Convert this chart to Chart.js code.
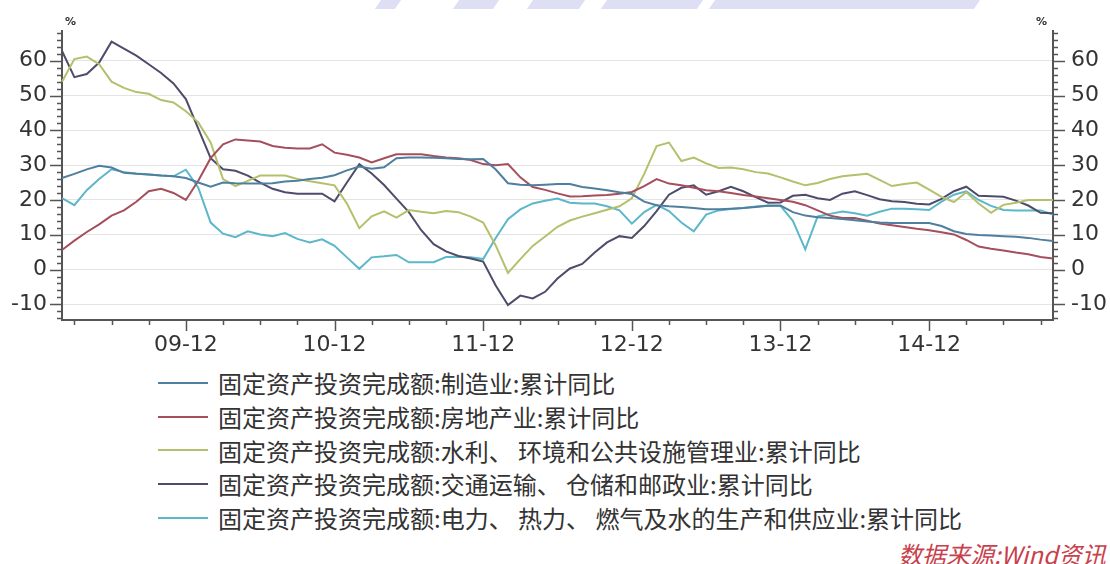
<!DOCTYPE html>
<html>
<head>
<meta charset="utf-8">
<script src="https://cdn.jsdelivr.net/npm/chart.js@4.4.1/dist/chart.umd.min.js"></script>
<style>
  body { margin: 0; background: #fff; width: 1110px; height: 564px; overflow: hidden; position: relative; }
  #wrap { position: absolute; left: 0; top: 0; width: 1110px; height: 362px; }
  .pct { position: absolute; font: bold 11px "DejaVu Sans"; color: #333; }
  #legend { position: absolute; left: 158px; top: 366px; font-family: "Noto Sans CJK SC", sans-serif; }
  .row { height: 33.7px; display: flex; align-items: center; font-size: 24px; color: #333; white-space: pre; }
  .row i { display: inline-block; width: 50px; height: 2px; margin-right: 10px; }
  #src { position: absolute; left: 898px; top: 536px; color: #c8404c; font: italic 24px "Noto Sans CJK SC", sans-serif; }
  .band { position: absolute; top: 0; height: 9px; background: #dedef4; transform: skewX(-35deg); }
</style>
</head>
<body>
<div class="band" style="left:378px;width:20px"></div>
<div class="band" style="left:456px;width:40px"></div>
<div class="band" style="left:530px;width:52px"></div>
<div class="band" style="left:604px;width:96px"></div>
<div class="band" style="left:712px;width:265px"></div>
<div id="wrap"><canvas id="chart"></canvas></div>
<div class="pct" style="left:65px;top:15px">%</div>
<div class="pct" style="left:1036px;top:15px">%</div>
<div id="legend"></div>
<div id="src">数据来源:Wind资讯</div>
<script>
// months 09-02 .. 15-10
const months = [];
for (let yr = 9; yr <= 15; yr++) {
  for (let mo = 1; mo <= 12; mo++) {
    if ((yr === 9 && mo < 2) || (yr === 15 && mo > 10)) continue;
    months.push(String(yr).padStart(2, '0') + '-' + String(mo).padStart(2, '0'));
  }
}

const seriesNames = [
  '固定资产投资完成额:制造业:累计同比',
  '固定资产投资完成额:房地产业:累计同比',
  '固定资产投资完成额:水利、 环境和公共设施管理业:累计同比',
  '固定资产投资完成额:交通运输、 仓储和邮政业:累计同比',
  '固定资产投资完成额:电力、 热力、 燃气及水的生产和供应业:累计同比'
];
const seriesColors = ['#4f7f9f', '#a54f5c', '#b5bf6c', '#4d4c6b', '#5bb7c9'];

const manufacturing = [
  26.3, 27.5, 28.8, 29.8, 29.3, 27.8, 27.5, 27.3, 27, 26.8, 26.3,
  25, 23.8, 25, 24.8, 24.7, 24.7, 24.8, 25.3, 25.5, 26, 26.4, 27.1,
  28.5, 29.6, 29, 29.4, 32, 32.2, 32.2, 32.1, 32, 31.8, 31.7, 31.8,
  28.8, 24.8, 24.4, 24.2, 24.4, 24.6, 24.6, 23.7, 23.3, 22.8, 22.2, 21.7,
  19.5, 18.5, 18.2, 18, 17.7, 17.3, 17.3, 17.5, 17.7, 18, 18.3, 18.4,
  16.5, 15.5, 15, 14.8, 14.5, 14.2, 13.8, 13.5, 13.4, 13.4, 13.4, 13.4,
  12.5, 11, 10.2, 9.9, 9.8, 9.6, 9.4, 9.1, 8.6, 8.2
];
const realEstate = [
  5.6, 8.3, 10.8, 13, 15.5, 17, 19.5, 22.5, 23.2, 22, 20,
  25.5, 32, 36, 37.4, 37.1, 36.8, 35.5, 35, 34.8, 34.8, 36, 33.6,
  33, 32.2, 30.8, 32, 33.1, 33.1, 33.1, 32.6, 32.2, 32, 31.5, 30.3,
  30, 30.3, 26.5, 23.7, 22.9, 21.9, 21, 21.1, 21.3, 21.4, 21.8, 22.3,
  24, 26, 24.7, 24.2, 23.5, 22.8, 22.5, 22, 21.4, 21, 20.5, 20,
  19.5, 18.5, 17, 15.5, 14.8, 14.8, 14, 13.2, 12.7, 12.2, 11.7, 11.3,
  10.7, 10.1, 8.5, 6.6, 6, 5.5, 4.9, 4.4, 3.6, 3.2
];
const waterEnv = [
  54, 60.5, 61.2, 59, 54, 52.2, 51, 50.5, 48.7, 48, 45.5,
  42.3, 36.5, 26, 24, 25.5, 27, 27, 27, 26, 25.4, 24.8, 24.2,
  19, 11.9, 15.3, 16.7, 14.9, 17.1, 16.6, 16.2, 16.8, 16.5, 15.2, 13.5,
  7, -1, 3, 6.8, 9.5, 12.3, 14.1, 15.2, 16.2, 17.2, 18.2, 20.5,
  27.5, 35.5, 36.5, 31.2, 32.2, 30.5, 29.2, 29.3, 28.8, 28, 27.6, 26.5,
  25.3, 24.2, 24.9, 26, 26.8, 27.2, 27.5, 25.8, 24, 24.6, 25, 23,
  20.9, 19.4, 22.2, 19, 16.3, 18.6, 19.2, 20, 20, 20
];
const transport = [
  62.8, 55.3, 56.2, 59.5, 65.5, 63.5, 61.5, 59, 56.5, 53.5, 49,
  40.5, 32, 28.8, 28.4, 27, 25, 23.2, 22.2, 21.8, 21.8, 21.8, 19.6,
  25, 30.3, 27.6, 24.3, 20.4, 16.5, 11.3, 7.3, 5.2, 3.9, 3.2, 2.3,
  -4.5, -10.2, -7.5, -8.3, -6.4, -2.6, 0.3, 1.6, 4.9, 7.8, 9.6, 9.1,
  12.5, 16.8, 21.5, 23.5, 24.2, 21.5, 22.5, 23.8, 22.5, 20.8, 19.2, 19.3,
  21.2, 21.5, 20.5, 20, 21.8, 22.5, 21.4, 20.2, 19.6, 19.4, 18.9, 18.7,
  20.3, 22.5, 23.8, 21.2, 21.1, 20.9, 19.8, 18.4, 16.3, 16.2
];
const power = [
  20.5, 18.5, 22.8, 26, 28.8, 28, 27.6, 27.3, 27, 26.8, 28.7,
  23.5, 13.5, 10.3, 9.3, 11, 10.1, 9.6, 10.5, 8.8, 7.8, 8.7, 6.8,
  3.5, 0.2, 3.5, 3.8, 4.2, 2.1, 2.1, 2.1, 3.6, 3.7, 3.5, 3.0,
  9, 14.5, 17.3, 19, 19.8, 20.4, 19.2, 19, 19, 18.2, 17, 13.2,
  16.5, 18.6, 16.8, 13.5, 11, 15.8, 17, 17.4, 17.7, 18.1, 18.4, 18.3,
  14, 5.8, 15.3, 16, 16.7, 16.2, 15.5, 16.6, 17.5, 17.5, 17.3, 17.1,
  19.5, 21.5, 22.5, 20, 18.3, 17.1, 17, 17, 17, 15.8
];
const seriesData = [manufacturing, realEstate, waterEnv, transport, power];

const yMin = -14.5, yMax = 68.5;

// tick marks: long at 10s / Dec, short at minor steps
const tickMarks = {
  id: 'tickMarks',
  afterDraw(chart) {
    const { ctx, scales: { x, y, y2 } } = chart;
    ctx.save();
    ctx.strokeStyle = '#555';
    ctx.lineWidth = 1.5;
    ctx.beginPath();
    y.ticks.forEach(t => {
      const py = Math.round(y.getPixelForValue(t.value)) + 0.5;
      const len = t.value % 10 === 0 ? 12 : 5;
      ctx.moveTo(y.right - len, py); ctx.lineTo(y.right, py);
      ctx.moveTo(y2.left, py); ctx.lineTo(y2.left + len, py);
    });
    months.forEach((m, i) => {
      const mo = +m.slice(3);
      if (mo % 3) return;
      const px = Math.round(x.getPixelForValue(i)) + 0.5;
      const len = mo === 12 ? 11 : 5;
      ctx.moveTo(px, x.top); ctx.lineTo(px, x.top + len);
    });
    ctx.stroke();
    ctx.restore();
  }
};

function yTicks(scale) {
  scale.ticks = [];
  for (let v = -14; v <= 68; v += 2) scale.ticks.push({ value: v });
}

Chart.defaults.font.family = 'DejaVu Sans';
Chart.defaults.font.size = 22;
Chart.defaults.color = '#333';

new Chart(document.getElementById('chart'), {
  type: 'line',
  data: {
    labels: months,
    datasets: seriesData.map((d, i) => ({
      label: seriesNames[i],
      data: d,
      borderColor: seriesColors[i],
      borderWidth: 2,
      pointRadius: 0,
      tension: 0,
      fill: false,
      yAxisID: 'y'
    }))
  },
  options: {
    responsive: true,
    maintainAspectRatio: false,
    animation: false,
    layout: { padding: { top: 27, left: 0, right: 0, bottom: 0 } },
    plugins: { legend: { display: false }, tooltip: { enabled: false } },
    scales: {
      x: {
        type: 'category',
        offset: false,
        grid: { drawOnChartArea: false, drawTicks: false },
        border: { color: '#555', width: 2 },
        ticks: {
          autoSkip: false,
          maxRotation: 0,
          padding: 12,
          callback: (v, i) => months[i].endsWith('-12') ? months[i] : ''
        },
        afterFit: s => { s.height = 42; }
      },
      y: {
        position: 'left',
        min: yMin,
        max: yMax,
        afterBuildTicks: yTicks,
        grid: {
          drawTicks: false,
          color: c => (c.tick && c.tick.value % 10 === 0) ? '#e4e4e4' : 'rgba(0,0,0,0)'
        },
        border: { color: '#555', width: 2 },
        ticks: { autoSkip: false, padding: 15, callback: v => v % 10 === 0 ? v : '' },
        afterFit: s => { s.width = 62; }
      },
      y2: {
        position: 'right',
        min: yMin,
        max: yMax,
        afterBuildTicks: yTicks,
        grid: { drawOnChartArea: false, drawTicks: false },
        border: { color: '#555', width: 2 },
        ticks: { autoSkip: false, padding: 18, callback: v => v % 10 === 0 ? v : '' },
        afterFit: s => { s.width = 57; }
      }
    }
  },
  plugins: [tickMarks]
});

const legend = document.getElementById('legend');
seriesNames.forEach((name, i) => {
  const row = document.createElement('div');
  row.className = 'row';
  const sw = document.createElement('i');
  sw.style.background = seriesColors[i];
  row.appendChild(sw);
  row.appendChild(document.createTextNode(name));
  legend.appendChild(row);
});
</script>
</body>
</html>
